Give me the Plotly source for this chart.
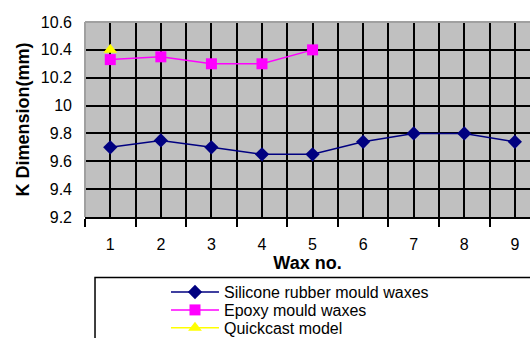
import plotly.graph_objects as go

wax_no = [1, 2, 3, 4, 5, 6, 7, 8, 9]
silicone = [9.70, 9.75, 9.70, 9.65, 9.65, 9.74, 9.80, 9.80, 9.74]
epoxy_no = [1, 2, 3, 4, 5]
epoxy = [10.33, 10.35, 10.30, 10.30, 10.40]
quick_no = [1]
quickcast = [10.40]

y_ticks = [9.2, 9.4, 9.6, 9.8, 10.0, 10.2, 10.4, 10.6]
y_labels = ["9.2", "9.4", "9.6", "9.8", "10", "10.2", "10.4", "10.6"]

FONT = "Liberation Sans, Arial, sans-serif"

fig = go.Figure()
fig.add_trace(go.Scatter(
    x=wax_no, y=silicone, mode="lines+markers", name="Silicone rubber mould waxes",
    line=dict(color="#000080", width=1.5),
    marker=dict(symbol="diamond", size=11, color="#000080"),
    legend="legend",
))
fig.add_trace(go.Scatter(
    x=epoxy_no, y=epoxy, mode="lines+markers", name="Epoxy mould waxes",
    line=dict(color="#FF00FF", width=1.5),
    marker=dict(symbol="square", size=11, color="#FF00FF"),
    legend="legend2",
))
fig.add_trace(go.Scatter(
    x=quick_no, y=quickcast, mode="lines+markers", name="Quickcast model",
    line=dict(color="#FFFF00", width=1.5),
    marker=dict(symbol="triangle-up", size=12, color="#FFFF00"),
    legend="legend3",
))


def legend_box(ypos):
    return dict(
        x=0.182, y=ypos, xanchor="left", yanchor="middle",
        bgcolor="rgba(0,0,0,0)", font=dict(size=16, family=FONT),
        itemwidth=48, borderwidth=0,
    )


fig.update_layout(
    width=530, height=338,
    margin=dict(l=85, r=0, t=22, b=121, autoexpand=False),
    paper_bgcolor="white",
    plot_bgcolor="#C0C0C0",
    font=dict(family=FONT, size=16, color="black"),
    showlegend=True,
    legend=legend_box(-0.385),
    legend2=legend_box(-0.477),
    legend3=legend_box(-0.569),
    xaxis=dict(
        range=[0.5, 9.3],
        tickmode="array", tickvals=wax_no, ticktext=[str(v) for v in wax_no],
        ticks="", showgrid=True, gridcolor="black", gridwidth=1.5,
        ticklabelstandoff=12,
        showline=True, linecolor="black", linewidth=1.5,
        zeroline=False,
        minor=dict(
            tickmode="array",
            tickvals=[0.5, 1.5, 2.5, 3.5, 4.5, 5.5, 6.5, 7.5, 8.5, 9.5],
            ticks="outside", ticklen=8, tickwidth=1.5, tickcolor="black",
            showgrid=True, gridcolor="black", gridwidth=1.5,
        ),
        title=dict(text="<b>Wax no.</b>", standoff=0, font=dict(size=18)),
    ),
    yaxis=dict(
        range=[9.2, 10.6],
        tickmode="array", tickvals=y_ticks, ticktext=y_labels,
        ticks="", showgrid=True, gridcolor="black", gridwidth=1.5,
        ticklabelstandoff=12,
        showline=False, zeroline=False,
        title=dict(text="<b>K Dimension(mm)</b>", standoff=6, font=dict(size=18)),
    ),
    shapes=[
        # light frame on the top and left edges of the plot area
        dict(type="line", xref="paper", yref="paper", x0=0, x1=1, y0=1, y1=1,
             line=dict(color="#A0A0A0", width=2), layer="above"),
        dict(type="line", xref="paper", yref="paper", x0=0, x1=0, y0=0, y1=1,
             line=dict(color="#A0A0A0", width=2), layer="above"),
        # legend frame
        dict(type="rect", xref="paper", yref="paper",
             x0=0.0225, x1=1.03, y0=-0.31, y1=-0.66,
             line=dict(color="black", width=1.5), fillcolor="rgba(0,0,0,0)"),
    ],
)

fig.write_html("out.html")
